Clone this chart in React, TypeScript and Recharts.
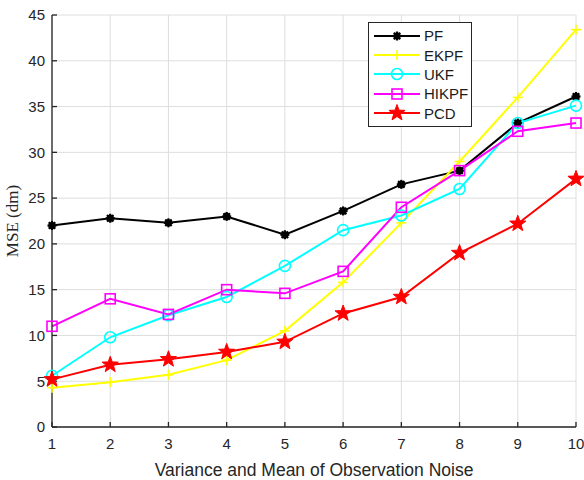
import React from "react";
import {
  LineChart,
  Line,
  XAxis,
  YAxis,
  CartesianGrid,
  Legend,
} from "recharts";

const noiseLevels = [1, 2, 3, 4, 5, 6, 7, 8, 9, 10];
const pf = [22.0, 22.8, 22.3, 23.0, 21.0, 23.6, 26.5, 28.0, 33.2, 36.1];
const ekpf = [4.3, 4.9, 5.7, 7.3, 10.5, 15.8, 22.3, 29.0, 36.0, 43.4];
const ukf = [5.6, 9.8, 12.2, 14.2, 17.6, 21.5, 23.1, 26.0, 33.2, 35.1];
const hikpf = [11.0, 14.0, 12.3, 15.0, 14.6, 17.0, 24.0, 28.0, 32.3, 33.2];
const pcd = [5.2, 6.8, 7.4, 8.2, 9.3, 12.4, 14.2, 19.0, 22.2, 27.1];
const yTicks = [0, 5, 10, 15, 20, 25, 30, 35, 40, 45];

type MarkerKind = "asterisk" | "plus" | "circle" | "square" | "star";

const series: { key: string; name: string; color: string; marker: MarkerKind; values: number[] }[] = [
  { key: "pf", name: "PF", color: "#000000", marker: "asterisk", values: pf },
  { key: "ekpf", name: "EKPF", color: "#ffff00", marker: "plus", values: ekpf },
  { key: "ukf", name: "UKF", color: "#00ffff", marker: "circle", values: ukf },
  { key: "hikpf", name: "HIKPF", color: "#ff00ff", marker: "square", values: hikpf },
  { key: "pcd", name: "PCD", color: "#ff0000", marker: "star", values: pcd },
];

const data = noiseLevels.map((x, i) => {
  const row: Record<string, number> = { x };
  series.forEach((s) => {
    row[s.key] = s.values[i];
  });
  return row;
});

const AXIS = "#262626";
const SANS = "'Liberation Sans', Arial, sans-serif";

function Marker({ kind, cx, cy, color }: { kind: MarkerKind; cx: number; cy: number; color: string }) {
  switch (kind) {
    case "asterisk": {
      const r = 4.5;
      const d = r * 0.72;
      return (
        <g stroke={color} strokeWidth={2.2}>
          <line x1={cx - r} y1={cy} x2={cx + r} y2={cy} />
          <line x1={cx} y1={cy - r} x2={cx} y2={cy + r} />
          <line x1={cx - d} y1={cy - d} x2={cx + d} y2={cy + d} />
          <line x1={cx - d} y1={cy + d} x2={cx + d} y2={cy - d} />
          <circle cx={cx} cy={cy} r={2.5} fill={color} />
        </g>
      );
    }
    case "plus":
      return (
        <g stroke={color} strokeWidth={1.6}>
          <line x1={cx - 5} y1={cy} x2={cx + 5} y2={cy} />
          <line x1={cx} y1={cy - 5} x2={cx} y2={cy + 5} />
        </g>
      );
    case "circle":
      return <circle cx={cx} cy={cy} r={5.5} fill="none" stroke={color} strokeWidth={1.6} />;
    case "square":
      return <rect x={cx - 5} y={cy - 5} width={10} height={10} fill="none" stroke={color} strokeWidth={1.6} />;
    case "star": {
      // filled pentagram
      const pts: string[] = [];
      for (let i = 0; i < 10; i++) {
        const rad = i % 2 === 0 ? 8.5 : 3.5;
        const a = -Math.PI / 2 + (i * Math.PI) / 5;
        pts.push(`${cx + rad * Math.cos(a)},${cy + rad * Math.sin(a)}`);
      }
      return <polygon points={pts.join(" ")} fill={color} stroke={color} strokeWidth={1} />;
    }
  }
  return null;
}

function LegendBox() {
  return (
    <div
      style={{
        border: `1.5px solid ${AXIS}`,
        background: "#fff",
        padding: "3px 0 3px 4px",
        fontFamily: SANS,
        fontSize: 15,
        color: "#1a1a1a",
        boxSizing: "border-box",
        width: 104,
      }}
    >
      {series.map((s) => (
        <div key={s.key} style={{ display: "flex", alignItems: "center", height: 19.4 }}>
          <svg width={48} height={18} style={{ flex: "none" }}>
            <line x1={1} y1={9} x2={47} y2={9} stroke={s.color} strokeWidth={2} />
            <Marker kind={s.marker} cx={24} cy={9} color={s.color} />
          </svg>
          <span style={{ marginLeft: 3 }}>{s.name}</span>
        </div>
      ))}
    </div>
  );
}

export default function App() {
  return (
    <div style={{ position: "absolute", left: 0, top: 0, background: "#fff" }}>
      <LineChart width={584} height={480} data={data} margin={{ top: 15, right: 8, bottom: 0, left: 0 }}>
        <CartesianGrid stroke="#dedede" strokeWidth={1} />
        <XAxis
          dataKey="x"
          type="number"
          domain={[1, 10]}
          ticks={noiseLevels}
          height={53}
          stroke={AXIS}
          strokeWidth={1.3}
          tickSize={-5}
          tickMargin={16}
          tick={{ fill: AXIS, fontSize: 15, fontFamily: SANS }}
          label={{
            value: "Variance and Mean of Observation Noise",
            position: "insideBottom",
            offset: 4,
            fill: AXIS,
            fontSize: 17.5,
            fontFamily: SANS,
          }}
        />
        <YAxis
          type="number"
          domain={[0, 45]}
          ticks={yTicks}
          width={52}
          stroke={AXIS}
          strokeWidth={1.3}
          tickSize={-5}
          tickMargin={12}
          tick={{ fill: AXIS, fontSize: 15, fontFamily: SANS }}
          label={{
            value: "MSE (dm)",
            angle: -90,
            position: "insideLeft",
            offset: 12,
            style: { textAnchor: "middle" },
            fill: AXIS,
            fontSize: 17,
            fontFamily: "'Liberation Serif', 'Times New Roman', serif",
          }}
        />
        <Legend
          layout="vertical"
          verticalAlign="middle"
          align="center"
          wrapperStyle={{ left: 368, top: 22, width: 104 }}
          content={() => <LegendBox />}
        />
        {series.map((s) => (
          <Line
            key={s.key}
            dataKey={s.key}
            name={s.name}
            stroke={s.color}
            strokeWidth={2}
            isAnimationActive={false}
            dot={(props: any) => (
              <Marker key={`${s.key}-${props.index}`} kind={s.marker} cx={props.cx} cy={props.cy} color={s.color} />
            )}
            activeDot={false}
          />
        ))}
      </LineChart>
    </div>
  );
}
